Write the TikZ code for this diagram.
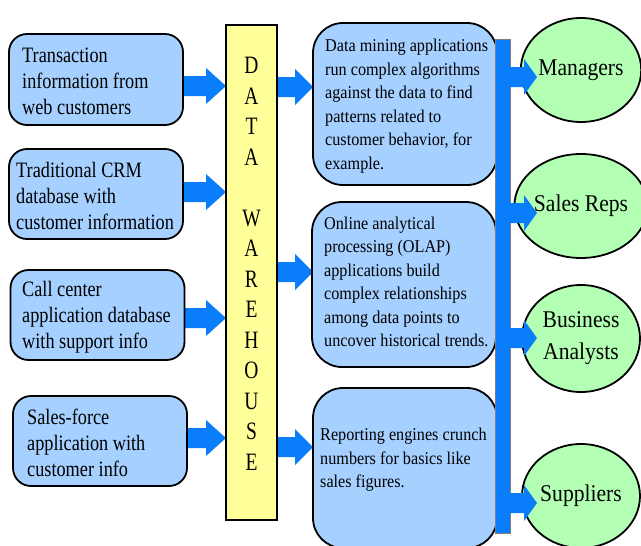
\documentclass[tikz,border=0pt]{standalone}
\usepackage{fontspec}
\setmainfont{Liberation Serif}
\newfontfamily\lfont[FakeStretch=0.83]{Liberation Serif}
\newfontfamily\mfont[FakeStretch=0.9]{Liberation Serif}
\newfontfamily\wfont[FakeStretch=0.78]{Liberation Serif}
\usetikzlibrary{shapes.geometric,calc}
\definecolor{boxblue}{RGB}{166,208,255}
\definecolor{arrowblue}{RGB}{10,125,250}
\definecolor{dwyellow}{RGB}{255,255,153}
\definecolor{usergreen}{RGB}{179,255,179}
\newcommand\blockarrow[3]{%
  \fill[arrowblue] let \p1=(#1), \p2=(#2) in
    (\x1,\y1+10pt) -- (\x2-#3,\y1+10pt) -- (\x2-#3,\y1+18pt) -- (\x2,\y1)
    -- (\x2-#3,\y1-18pt) -- (\x2-#3,\y1-10pt) -- (\x1,\y1-10pt) -- cycle;}
\tikzset{
  lbox/.style={draw=black, line width=1.8pt, fill=boxblue, rounded corners=18pt,
    minimum width=174pt, inner sep=0pt},
  ltext/.style={anchor=west, align=left, inner sep=0pt,
    font=\lfont\fontsize{22pt}{26pt}\selectfont},
  mbox/.style={draw=black, line width=1.8pt, fill=boxblue, rounded corners=30pt,
    minimum width=184pt, inner sep=0pt},
  mtext/.style={anchor=west, align=left, inner sep=0pt,
    font=\mfont\fontsize{18pt}{23.5pt}\selectfont},
  user/.style={draw=black, line width=1.8pt, fill=usergreen, ellipse,
    minimum width=118pt, minimum height=104pt, inner sep=0pt, align=center,
    font=\mfont\fontsize{24pt}{32pt}\selectfont},
}
\begin{document}
\begin{tikzpicture}[x=1pt,y=-1pt]
\useasboundingbox (0,0) rectangle (641,546);
% arrow end points
\coordinate (l1s) at (183,86);  \coordinate (l1e) at (226,86);
\coordinate (l2s) at (183,192); \coordinate (l2e) at (226,192);
\coordinate (l3s) at (185,318); \coordinate (l3e) at (226,318);
\coordinate (l4s) at (187,438); \coordinate (l4e) at (226,438);
\coordinate (m1s) at (277,87);  \coordinate (m1e) at (313,87);
\coordinate (m2s) at (277,272); \coordinate (m2e) at (313,272);
\coordinate (m3s) at (277,447); \coordinate (m3e) at (313,447);
\coordinate (r1s) at (510,77);  \coordinate (r1e) at (537,77);
\coordinate (r2s) at (510,213); \coordinate (r2e) at (537,213);
\coordinate (r3s) at (510,338); \coordinate (r3e) at (537,338);
\coordinate (r4s) at (510,503); \coordinate (r4e) at (537,503);
\blockarrow{l1s}{l1e}{20pt}
\blockarrow{l2s}{l2e}{20pt}
\blockarrow{l3s}{l3e}{20pt}
\blockarrow{l4s}{l4e}{20pt}
\blockarrow{m1s}{m1e}{18pt}
\blockarrow{m2s}{m2e}{18pt}
\blockarrow{m3s}{m3e}{18pt}
% source boxes
\node[lbox, minimum height=91pt] (s1) at (96,79.5) {};
\node[ltext] (s1t) at (22,81) {Transaction\\information from\\web customers};
\node[lbox, minimum height=90pt] (s2) at (96,194) {};
\node[ltext] (s2t) at (16,196) {Traditional CRM\\database with\\customer information};
\node[lbox, minimum height=90pt] (s3) at (97.5,315) {};
\node[ltext] (s3t) at (22,317) {Call center\\application database\\with support info};
\node[lbox, minimum height=90pt] (s4) at (100,441) {};
\node[ltext] (s4t) at (27,443) {Sales-force\\application with\\customer info};
% data warehouse
\node[draw=black, line width=1.5pt, fill=dwyellow, minimum width=51pt,
  minimum height=495pt, inner sep=0pt] (dw) at (251.5,272.5) {};
\node[align=center, inner sep=0pt, font=\wfont\fontsize{25pt}{30.5pt}\selectfont]
  (dwt) at (251.5,264) {D\\A\\T\\A\\[30.5pt]W\\A\\R\\E\\H\\O\\U\\S\\E};
% application boxes
\node[mbox, minimum height=162pt] (a1) at (405,104) {};
\node[mtext] (a1t) at (325,106) {Data mining applications\\run complex algorithms\\against the data to find\\patterns related to\\customer behavior, for\\example.};
\node[mbox, minimum height=165pt] (a2) at (404,284.5) {};
\node[mtext] (a2t) at (324,282) {Online analytical\\processing (OLAP)\\applications build\\complex relationships\\among data points to\\uncover historical trends.};
\node[mbox, minimum height=160pt] (a3) at (405,468) {};
\node[mtext] (a3t) at (320,460) {Reporting engines crunch\\numbers for basics like\\sales figures.};
% distribution bar
\node[draw=gray, line width=0.6pt, fill=arrowblue, minimum width=15pt,
  minimum height=494pt, inner sep=0pt] (bar) at (502.5,286) {};
% users
\node[user] (u1) at (581,70) {Managers};
\node[user] (u2) at (581,206) {Sales Reps};
\node[user, minimum height=107pt] (u3) at (581,338.5) {Business\\Analysts};
\node[user] (u4) at (581,496) {Suppliers};
% arrows to users (drawn over the ellipse border)
\blockarrow{r1s}{r1e}{13pt}
\blockarrow{r2s}{r2e}{13pt}
\blockarrow{r3s}{r3e}{13pt}
\blockarrow{r4s}{r4e}{13pt}
\end{tikzpicture}
\end{document}
